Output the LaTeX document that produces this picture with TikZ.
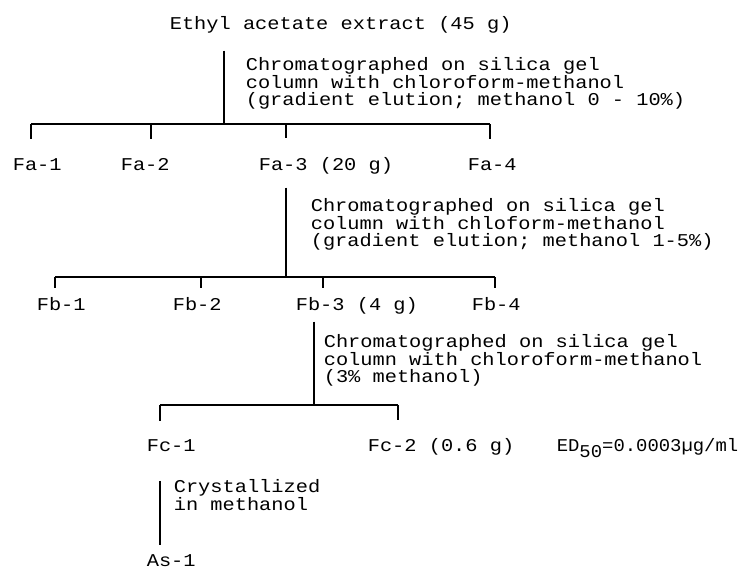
\documentclass[tikz,border=0pt]{standalone}
\usepackage{fontspec}
\newfontfamily\typewfont{Liberation Mono}[FakeStretch=1.13]
\newfontfamily\edfont{Liberation Mono}[FakeStretch=1.05]
\tikzset{
    frac/.style = {
        anchor = base west,
        inner sep = 0pt,
        font = \typewfont\fontsize{18}{16.5}\selectfont,
    },
    note/.style = {frac, align = left},
    drop/.style = {shorten >= #1}
}

\begin{document}
\begin{tikzpicture}[x=1pt, y=-1pt, line width=1.6pt]
  \useasboundingbox (0,0) rectangle (742,573);

  % Starting material and first column (notes sit on their last line)
  \node[frac] (src) at (169,29) {Ethyl acetate extract (45 g)};
  \coordinate (j1) at (224,124);
  \node[note] (n1) at (245,105) {Chromatographed on silica gel\\column with chloroform-methanol\\(gradient elution; methanol 0 - 10\%)};

  % Fractions Fa
  \node[frac] (a1) at (12,170)  {Fa-1};
  \node[frac] (a2) at (120,170) {Fa-2};
  \node[frac] (a3) at (258,170) {Fa-3 (20 g)};
  \node[frac] (a4) at (467,170) {Fa-4};
  \coordinate (a1t) at (31,124);
  \coordinate (a2t) at (151,124);
  \coordinate (a3t) at (286,124);
  \coordinate (a4t) at (490,124);

  \draw[shorten <= 17pt] (src.south -| j1) -- (j1);
  \draw (a1t) -- (a4t);
  \draw[drop=18pt] (a1t) -- (a1t |- a1.north);
  \draw[drop=18pt] (a2t) -- (a2t |- a2.north);
  \draw[drop=18pt] (a3t) -- (a3t |- a3.north);
  \draw[drop=18pt] (a4t) -- (a4t |- a4.north);

  % Second column on Fa-3
  \coordinate (j2) at (286,277);
  \node[note] (n2) at (310,246) {Chromatographed on silica gel\\column with chloform-methanol\\(gradient elution; methanol 1-5\%)};

  % Fractions Fb
  \node[frac] (b1) at (36,310)  {Fb-1};
  \node[frac] (b2) at (172,310) {Fb-2};
  \node[frac] (b3) at (295,310) {Fb-3 (4 g)};
  \node[frac] (b4) at (471,310) {Fb-4};
  \coordinate (b1t) at (55,277);
  \coordinate (b2t) at (201,277);
  \coordinate (b3t) at (323,277);
  \coordinate (b4t) at (495,277);

  \draw[shorten <= 13pt] (a3.south -| j2) -- (j2);
  \draw (b1t) -- (b4t);
  \draw[drop=8pt] (b1t) -- (b1t |- b1.north);
  \draw[drop=8pt] (b2t) -- (b2t |- b2.north);
  \draw[drop=8pt] (b3t) -- (b3t |- b3.north);
  \draw[drop=8pt] (b4t) -- (b4t |- b4.north);

  % Third column on Fb-3
  \coordinate (j3) at (314,405);
  \node[note] (n3) at (323,382) {Chromatographed on silica gel\\column with chloroform-methanol\\(3\% methanol)};

  % Fractions Fc
  \node[frac] (c1) at (146,451) {Fc-1};
  \node[frac] (c2) at (367,451) {Fc-2 (0.6 g)};
  \node[frac, font=\edfont\fontsize{18}{16.5}\selectfont] (ed) at (556,451) {ED\raisebox{-6pt}{50}=0.0003µg/ml};
  \coordinate (c1t) at (160,405);
  \coordinate (c2t) at (398,405);

  \draw[shorten <= 7pt] (b3.south -| j3) -- (j3);
  \draw (c1t) -- (c2t);
  \draw[drop=17pt] (c1t) -- (c1t |- c1.north);
  \draw[drop=17pt] (c2t) -- (c2t |- c2.north);

  % Crystallization of Fc-1
  \node[frac] (as1) at (146,566) {As-1};
  \node[note] (n4) at (173,510.5) {Crystallized\\in methanol};
  \draw[shorten <= 29pt, shorten >= 8pt] (c1.south -| c1t) -- (c1t |- as1.north);

\end{tikzpicture}
\end{document}
